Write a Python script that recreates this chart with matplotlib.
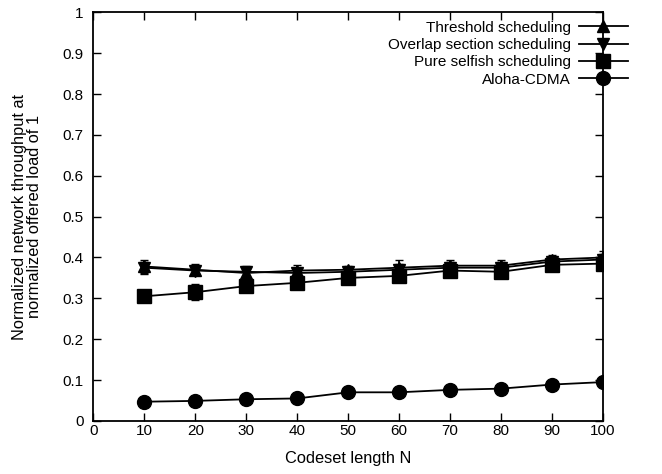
import matplotlib
matplotlib.use("Agg")
import matplotlib.pyplot as plt
from matplotlib.lines import Line2D

plt.rcParams['font.family'] = ['Liberation Sans', 'DejaVu Sans']
plt.rcParams['font.size'] = 11

N = [10, 20, 30, 40, 50, 60, 70, 80, 90, 100]

threshold = [0.378, 0.370, 0.362, 0.368, 0.370, 0.375, 0.380, 0.380, 0.395, 0.400]
threshold_err = [0.015, 0.013, 0.015, 0.013, 0.010, 0.018, 0.015, 0.015, 0.012, 0.015]

overlap = [0.375, 0.368, 0.365, 0.362, 0.365, 0.370, 0.375, 0.375, 0.390, 0.395]
overlap_err = [0.015, 0.012, 0.013, 0.012, 0.010, 0.015, 0.013, 0.013, 0.012, 0.013]

selfish = [0.305, 0.315, 0.330, 0.338, 0.350, 0.355, 0.368, 0.365, 0.382, 0.385]
selfish_err = [0.010, 0.020, 0.010, 0.010, 0.010, 0.010, 0.010, 0.010, 0.010, 0.010]

aloha = [0.047, 0.049, 0.053, 0.055, 0.070, 0.070, 0.076, 0.079, 0.089, 0.095]

labels = ['Threshold scheduling', 'Overlap section scheduling',
          'Pure selfish scheduling', 'Aloha-CDMA']
markers = ['^', 'v', 's', 'o']
sizes = [9, 9, 10, 10]

fig = plt.figure(figsize=(6.62, 4.74), dpi=100)
ax = fig.add_axes([0.141, 0.112, 0.770, 0.862])

series = [(threshold, threshold_err), (overlap, overlap_err), (selfish, selfish_err), (aloha, None)]
for (vals, err), m, ms in zip(series, markers, sizes):
    if err is not None:
        ax.errorbar(N, vals, yerr=err, color='black', marker=m, markersize=ms,
                    linewidth=1.3, capsize=3, elinewidth=1.3)
    else:
        ax.plot(N, vals, color='black', marker=m, markersize=ms, linewidth=1.3)

ax.set_xlim(0, 100)
ax.set_ylim(0, 1)
ax.set_xticks(range(0, 101, 10))
ax.set_yticks([i / 10 for i in range(11)])
ax.set_yticklabels(['0', '0.1', '0.2', '0.3', '0.4', '0.5', '0.6', '0.7', '0.8', '0.9', '1'])
ax.tick_params(direction='in', top=True, right=True, length=6, width=1)
ax.tick_params(axis='y', pad=7)
ax.tick_params(axis='x', pad=2)
for s in ax.spines.values():
    s.set_linewidth(1.3)

ax.set_xlabel('Codeset length N', fontsize=11.8)
ax.xaxis.set_label_coords(0.5, -0.073)
ax.set_ylabel('Normalized network throughput at\nnormalized offered load of 1',
              fontsize=11.8, linespacing=1.0)
ax.yaxis.set_label_coords(-0.1, 0.5)

handles = [Line2D([], [], color='black', marker=m, markersize=ms, linewidth=1.3)
           for m, ms in zip(markers, sizes)]
leg = ax.legend(handles, labels, loc='upper right', frameon=False, markerfirst=False,
                handlelength=3.2, labelspacing=0.22, borderaxespad=0.3, handletextpad=0.5,
                bbox_to_anchor=(1.069, 1.006))
for t in leg.get_texts():
    t.set_ha('right')

fig.savefig('out.png', dpi=100)
